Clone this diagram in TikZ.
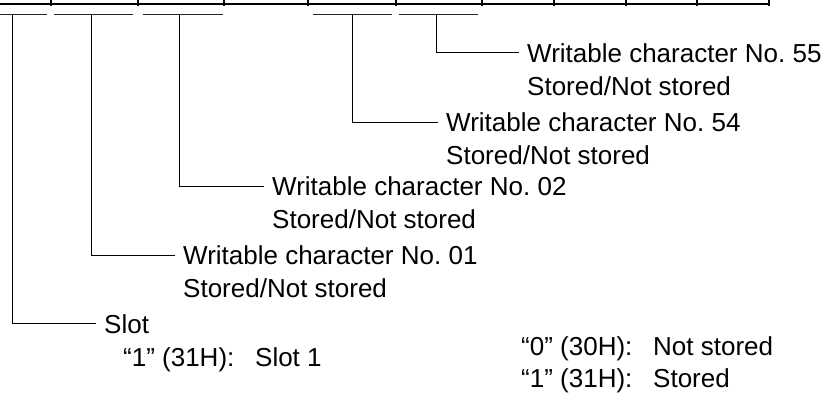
\documentclass[tikz,border=0pt]{standalone}
\usepackage{fontspec}
\setmainfont{Liberation Sans}
\frenchspacing
\begin{document}
\begin{tikzpicture}[x=1pt,y=-1pt,
  txt/.style={anchor=base west, inner sep=0pt, font=\fontsize{26}{30}\selectfont},
  conn/.style={line width=1pt, shorten >=8.5pt},
  under/.style={line width=1pt, black!85},
  topline/.style={line width=1.8pt},
  tickmark/.style={line width=1.3pt}]
\useasboundingbox (0,0) rectangle (832,392);
% top register line with cell dividers
\draw[topline] (0,4) -- (769,4);
\foreach \x in {51,138,224,308,396,482,554,626,697,769}
  \draw[tickmark] (\x,0) -- (\x,5.5);
% field underlines
\draw[under] (0,14.5) -- (47,14.5);
\draw[under] (54,14.5) -- (133,14.5);
\draw[under] (143,14.5) -- (223,14.5);
\draw[under] (313,14.5) -- (392,14.5);
\draw[under] (399,14.5) -- (478,14.5);
% bracket origins
\coordinate (s0) at (12,14.5);
\coordinate (s1) at (91,14.5);
\coordinate (s2) at (179,14.5);
\coordinate (s54) at (352,14.5);
\coordinate (s55) at (436,14.5);
% texts
\node[txt] (t55) at (527,62) {Writable character No. 55};
\node[txt] (t55b) at (527,95) {Stored/Not stored};
\node[txt] (t54) at (446,131.5) {Writable character No. 54};
\node[txt] (t54b) at (446,164.5) {Stored/Not stored};
\node[txt] (t02) at (272,195.5) {Writable character No. 02};
\node[txt] (t02b) at (272,228.5) {Stored/Not stored};
\node[txt] (t01) at (183,264.5) {Writable character No. 01};
\node[txt] (t01b) at (183,297.5) {Stored/Not stored};
\node[txt] (tslot) at (104,333) {Slot};
\node[txt] (tslotv) at (123,366) {\makebox[132pt][l]{“1” (31H):}Slot 1};
\node[txt] (tv0) at (521,355) {\makebox[132pt][l]{“0” (30H):}Not stored};
\node[txt] (tv1) at (521,387) {\makebox[132pt][l]{“1” (31H):}Stored};
% connectors
\draw[conn] (s55) |- (t55.west);
\draw[conn] (s54) |- (t54.west);
\draw[conn] (s2) |- (t02.west);
\draw[conn] (s1) |- (t01.west);
\draw[conn] (s0) |- (tslot.west);
\end{tikzpicture}
\end{document}
